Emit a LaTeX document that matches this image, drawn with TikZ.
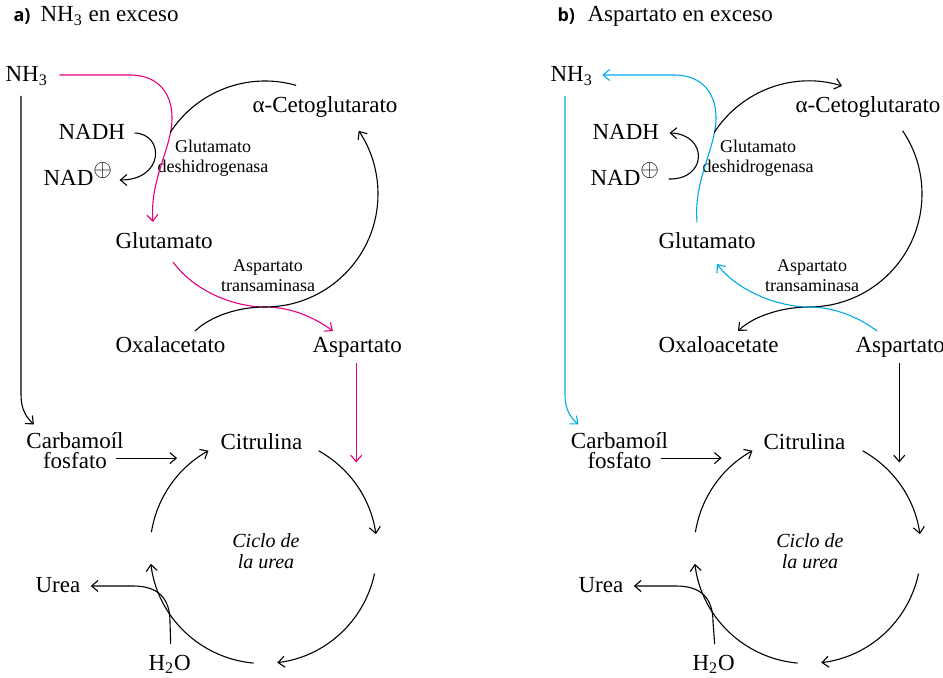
\documentclass[tikz,border=0pt]{standalone}
\usepackage{fontspec}
\setmainfont{Liberation Serif}
\newfontfamily\panelfont{Open Sans}
\usetikzlibrary{positioning, calc, arrows.meta}
\definecolor{cM}{RGB}{230,0,126}
\definecolor{cC}{RGB}{0,170,230}
\newcommand{\nadp}{NAD\raisebox{4.5pt}{\fontsize{11.5}{11.5}\selectfont$\oplus$}}

\begin{document}
\begin{tikzpicture}[x=0.5pt, y=-0.5pt, line width=0.55pt,
    >={Straight Barb[length=3.2pt,width=5.5pt]},
    lbl/.style={inner sep=0pt, anchor=base west, font=\fontsize{11.5}{12}\selectfont},
    enz/.style={inner sep=0pt, anchor=base, align=center, font=\fontsize{9}{10}\selectfont},
    two/.style={inner sep=0pt, anchor=base, align=center, font=\fontsize{11.5}{10}\selectfont},
    cyc/.style={inner sep=0pt, anchor=base, align=center, font=\fontsize{10}{10}\selectfont\itshape},
    panel/.style={inner sep=0pt, anchor=base west, font=\fontsize{9}{10}\panelfont\bfseries}]
    \useasboundingbox (0,0) rectangle (943,678);

    % a) NH3 en exceso
    \node[panel] (ta) at (13,22) {a)};
    \node[lbl] (tita) at (40,22) {NH\textsubscript{3} en exceso};

    % Nodes
    \node[lbl] (NHa) at (5,82) {NH\textsubscript{3}};
    \node[lbl] (CGa) at (252,113) {α-Cetoglutarato};
    \node[lbl] (NADHa) at (58,140) {NADH};
    \node[lbl] (NADa) at (43,186) {\nadp};
    \node[enz] (GDa) at (213,173) {Glutamato\\deshidrogenasa};
    \node[lbl] (GLa) at (115,249) {Glutamato};
    \node[enz] (ATa) at (268,292) {Aspartato\\transaminasa};
    \node[lbl] (OXa) at (115,353) {Oxalacetato};
    \node[lbl] (ASa) at (312,353) {Aspartato};
    \node[two] (CPa) at (75,469) {Carbamoíl\\fosfato};
    \node[lbl] (CIa) at (220,450) {Citrulina};
    \node[cyc] (CUa) at (266,568) {Ciclo de\\la urea};
    \node[lbl] (URa) at (35,593) {Urea};
    \node[lbl] (H2a) at (148,670) {H\textsubscript{2}O};
    \coordinate (ca) at (265,194);
    \coordinate (cu) at (263.5,550);

    % Transitions
    \draw[cM,->] ($(NHa.base east)+(11,-7)$) -- (130,75) .. controls (163,75) and (176,100) .. (171,130)
        .. controls (166,158) and (150,185) .. ($(GLa.base west)+(38,-27)$);
    \draw[->] ($(NADHa.base east)+(9,-7)$) .. controls (165,134) and (164,180) .. ($(NADa.base east)+(7,-6)$);
    \draw ($(ca)+(-74:113)$) arc[start angle=-74, end angle=-147, radius=113];
    \draw[cM,->] ($(GLa.base west)+(58,13)$) .. controls (195,292) and (235,307) .. (265,307)
        .. controls (292,307) and (315,318) .. ($(ASa.base west)+(21,-22)$);
    \draw[->] ($(OXa.base west)+(80,-22)$) .. controls (212,315) and (240,307) .. (265,307)
        arc[start angle=90, end angle=-34, radius=113];
    \draw[->] ($(NHa.base west)+(16,14)$) -- (21,395) .. controls (21,410) and (27,418) .. ($(CPa.north west)+(8,-8)$);
    \draw[cM,->] ($(ASa.south)+(-1,5)$) -- ++(0,99);
    \draw[->] ($(CPa.east)+(-8,7)$) -- ++(61,0);

    % Ciclo de la urea
    \draw[->] ($(cu)+(-61:113.5)$) arc[start angle=-61, end angle=-8, radius=113.5];
    \draw[->] ($(cu)+(12:113.5)$) arc[start angle=12, end angle=83, radius=113.5];
    \draw[->] ($(cu)+(95:113.5)$) arc[start angle=95, end angle=173, radius=113.5];
    \draw[->] ($(cu)+(-171:113.5)$) arc[start angle=-171, end angle=-119, radius=113.5];
    \draw[->] ($(H2a.north)+(1,-10)$) -- (170,622) .. controls (170,598) and (158,586) .. (133,586)
        -- ($(URa.base east)+(10,-7)$);

    % b) Aspartato en exceso
    \node[panel] (tb) at (557,22) {b)};
    \node[lbl] (titb) at (587,22) {Aspartato en exceso};

    % Nodes
    \node[lbl] (NHb) at (550,82) {NH\textsubscript{3}};
    \node[lbl] (CGb) at (795,113) {α-Cetoglutarato};
    \node[lbl] (NADHb) at (592,140) {NADH};
    \node[lbl] (NADb) at (590,186) {\nadp};
    \node[enz] (GDb) at (758,173) {Glutamato\\deshidrogenasa};
    \node[lbl] (GLb) at (658,249) {Glutamato};
    \node[enz] (ATb) at (812,292) {Aspartato\\transaminasa};
    \node[lbl] (OXb) at (658,353) {Oxaloacetate};
    \node[lbl] (ASb) at (855,353) {Aspartato};
    \node[two] (CPb) at (619.5,469) {Carbamoíl\\fosfato};
    \node[lbl] (CIb) at (763,450) {Citrulina};
    \node[cyc] (CUb) at (810,568) {Ciclo de\\la urea};
    \node[lbl] (URb) at (578,593) {Urea};
    \node[lbl] (H2b) at (692,670) {H\textsubscript{2}O};
    \coordinate (cb) at (809,194);
    \coordinate (cub) at (807.5,550);

    % Transitions
    \draw[cC,->] ($(GLb.base west)+(39,-27)$) .. controls (694,185) and (710,158) .. (715,130)
        .. controls (720,100) and (707,75) .. (674,75) -- ($(NHb.base east)+(9,-7)$);
    \draw[->] ($(NADb.base east)+(9,-7)$) .. controls (708,180) and (708,134) .. ($(NADHb.base east)+(10,-7)$);
    \draw[->] ($(cb)+(-147:113)$) arc[start angle=-147, end angle=-73, radius=113];
    \draw[->] ($(cb)+(-34:113)$) arc[start angle=-34, end angle=90, radius=113]
        .. controls (784,307) and (755,315) .. ($(OXb.base west)+(80,-22)$);
    \draw[cC,->] ($(ASb.base west)+(22,-22)$) .. controls (860,318) and (835,307) .. (809,307)
        .. controls (780,307) and (738,292) .. ($(GLb.base west)+(59,15)$);
    \draw[cC,->] ($(NHb.base west)+(15,14)$) -- (565,395) .. controls (565,410) and (571,418) .. ($(CPb.north west)+(8,-8)$);
    \draw[->] ($(ASb.south)+(-1,5)$) -- ++(0,99);
    \draw[->] ($(CPb.east)+(-8,7)$) -- ++(61,0);

    % Ciclo de la urea
    \draw[->] ($(cub)+(-61:113.5)$) arc[start angle=-61, end angle=-8, radius=113.5];
    \draw[->] ($(cub)+(12:113.5)$) arc[start angle=12, end angle=83, radius=113.5];
    \draw[->] ($(cub)+(95:113.5)$) arc[start angle=95, end angle=173, radius=113.5];
    \draw[->] ($(cub)+(-171:113.5)$) arc[start angle=-171, end angle=-119, radius=113.5];
    \draw[->] ($(H2b.north)+(1,-10)$) -- (713,622) .. controls (713,598) and (701,586) .. (676,586)
        -- ($(URb.base east)+(10,-7)$);
\end{tikzpicture}
\end{document}
